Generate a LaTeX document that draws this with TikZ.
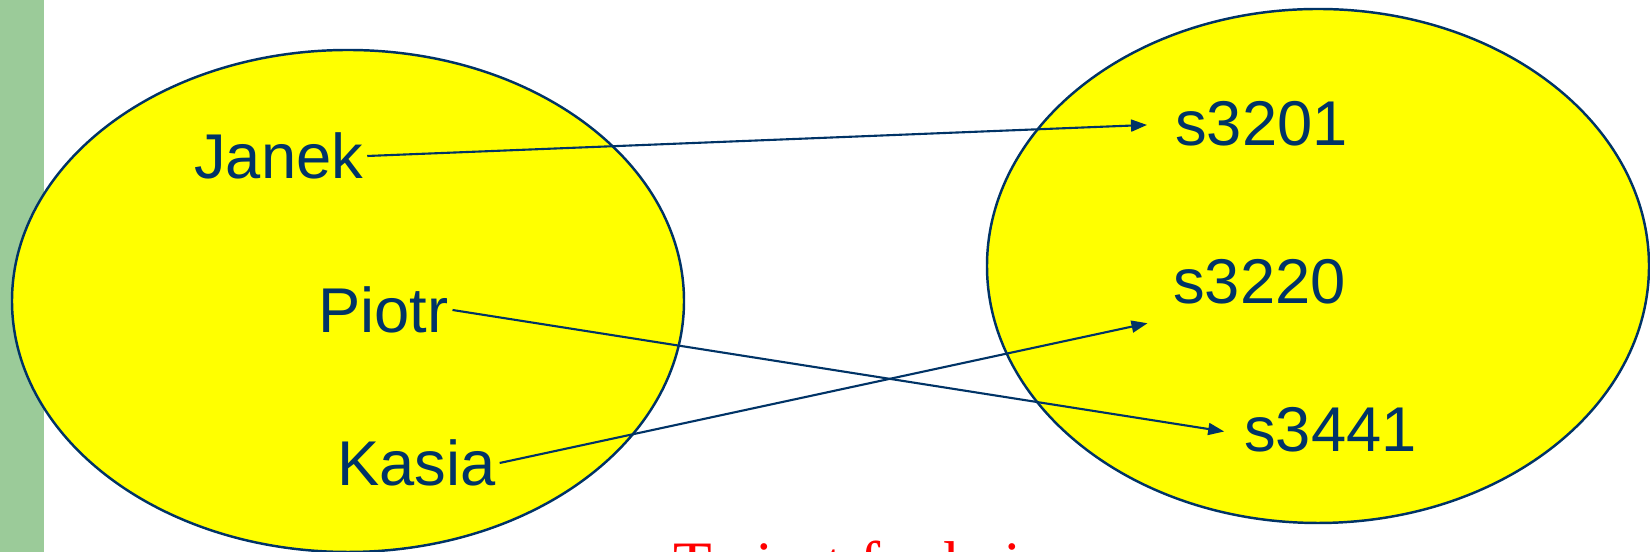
\documentclass[tikz,border=0pt]{standalone}
\usepackage{fontspec}
\usepackage{tikz}
\usetikzlibrary{
	arrows.meta,
	positioning
}
\newfontfamily\arialfont{Liberation Sans}
\newfontfamily\timesfont{Liberation Serif}
\definecolor{NavyLine}{RGB}{0,51,102}
\definecolor{SetYellow}{RGB}{255,255,0}
\definecolor{BarGreen}{RGB}{155,203,153}

\begin{document}
\begin{tikzpicture}[
		elem/.style={anchor=west, inner sep=1pt, text=NavyLine, font=\arialfont\fontsize{18}{21}\selectfont},
		mapto/.style={NavyLine, line width=0.6pt, -{Triangle[length=1.6mm,width=1.2mm]}}
	]
			\useasboundingbox (0,0) rectangle (16.5,5.52);
			\fill[BarGreen] (0,0) rectangle (0.44,5.52);
			
			% dziedzina i przeciwdziedzina
			\draw[fill=SetYellow, draw=NavyLine, line width=0.7pt] (3.48,2.51) ellipse [x radius=3.36, y radius=2.51];
			\draw[fill=SetYellow, draw=NavyLine, line width=0.7pt] (13.18,2.86) ellipse [x radius=3.31, y radius=2.57];
			
			\node[elem] (janek) at (1.90,3.96) {Janek};
			\node[elem] (piotr) at (3.14,2.42) {Piotr};
			\node[elem] (kasia) at (3.33,0.89) {Kasia};
			\node[elem] (s3201) at (11.71,4.28) {s3201};
			\node[elem] (s3220) at (11.69,2.70) {s3220};
			\node[elem] (s3441) at (12.40,1.22) {s3441};
			
			% przypisania
			\draw[mapto, shorten >=0.24cm] (janek.east) -- (s3201.west);
			\draw[mapto, shorten >=0.16cm] (piotr.east) -- ([yshift=-0.4mm]s3441.west);
			\draw[mapto, shorten >=0.22cm] (kasia.east) -- ([yshift=-1.0mm]s3220.south west);
			
			\node[anchor=base west, inner sep=0pt, text=red, font=\timesfont\fontsize{18}{21}\selectfont] (caption) at (6.73,-0.34) {To jest funkcja};
		\end{tikzpicture}
\end{document}
